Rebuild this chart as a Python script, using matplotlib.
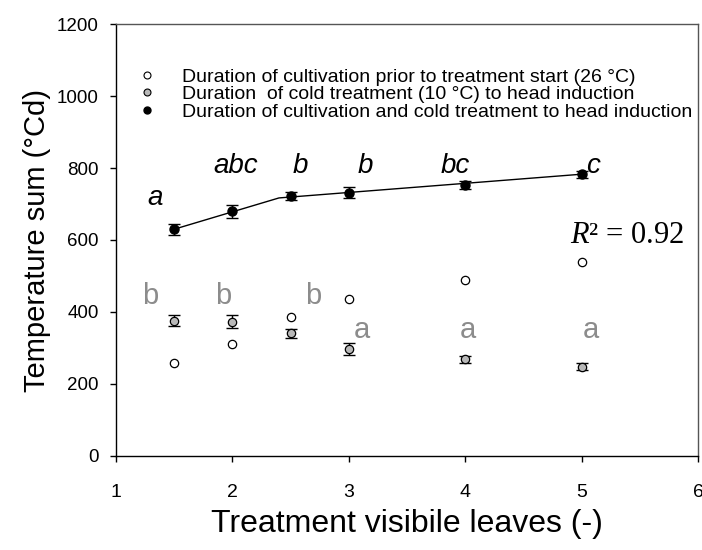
import matplotlib
matplotlib.use("Agg")
import matplotlib.pyplot as plt
from matplotlib.lines import Line2D

plt.rcParams['font.family'] = ['Liberation Sans', 'DejaVu Sans']
plt.rcParams['mathtext.fontset'] = 'custom'
plt.rcParams['mathtext.rm'] = 'Liberation Serif'
plt.rcParams['mathtext.it'] = 'Liberation Serif:italic'

# data
leaves = [1.5, 2.0, 2.5, 3.0, 4.0, 5.0]
prior_26 = [259, 310, 387, 437, 488, 538]
cold_10 = [375, 372, 340, 297, 268, 248]
cold_err = [15, 18, 12, 16, 10, 10]
total = [630, 680, 722, 732, 753, 783]
total_err = [15, 18, 11, 16, 11, 10]

# broken-stick fit drawn through the totals
fit_x = [1.5, 2.4, 5.0]
fit_y = [630, 717, 783]
r2_text = "$R$\u00b2 = 0.92"

# significance letters (text, x, baseline y)
total_letters = ["a", "abc", "b", "b", "bc", "c"]
total_letter_x = [1.333, 2.028, 2.583, 3.144, 3.915, 5.096]
total_letter_y = [697, 787, 787, 787, 787, 787]
cold_letters = ["b", "b", "b", "a", "a", "a"]
cold_letter_x = [1.293, 1.924, 2.694, 3.116, 4.025, 5.078]
cold_letter_y = [422, 422, 422, 327, 327, 327]

legend_labels = [
    "Duration of cultivation prior to treatment start (26 \u00b0C)",
    "Duration  of cold treatment (10 \u00b0C) to head induction",
    "Duration of cultivation and cold treatment to head induction",
]

gray_fill = "#b8b8b8"
gray_text = "#8c8c8c"

fig = plt.figure(figsize=(7.02, 5.5), dpi=100)
ax = fig.add_axes([116 / 702, 1 - 455.7 / 550, (698 - 116) / 702, (455.7 - 24.3) / 550])

# fitted line
ax.plot(fit_x, fit_y, color="black", lw=1.0, zorder=2)

# error bars
ax.errorbar(leaves, total, yerr=total_err, fmt="none", ecolor="black",
            elinewidth=1.0, capsize=4.3, capthick=1.0, zorder=3)
ax.errorbar(leaves, cold_10, yerr=cold_err, fmt="none", ecolor="black",
            elinewidth=1.0, capsize=4.3, capthick=1.0, zorder=3)

# points
ax.plot(leaves, prior_26, "o", ms=6, mfc="white", mec="black", mew=0.9, zorder=4)
ax.plot(leaves, cold_10, "o", ms=6, mfc=gray_fill, mec="black", mew=0.9, zorder=4)
ax.plot(leaves, total, "o", ms=6.5, mfc="black", mec="black", zorder=4)

for t, x, y in zip(total_letters, total_letter_x, total_letter_y):
    ax.text(x, y, t, fontsize=20, style="italic", ha="center", va="baseline")
for t, x, y in zip(cold_letters, cold_letter_x, cold_letter_y):
    ax.text(x, y, t, fontsize=21, color=gray_text, ha="center", va="baseline")

ax.text(4.899, 593, r2_text, fontsize=22, family="Liberation Serif", ha="left", va="baseline")

ax.set_xlim(1, 6)
ax.set_ylim(0, 1200)
ax.set_xticks([1, 2, 3, 4, 5, 6])
ax.set_yticks([0, 200, 400, 600, 800, 1000, 1200])
ax.tick_params(axis="y", direction="out", length=4.3, width=1.0, labelsize=13.5, pad=8)
ax.tick_params(axis="x", direction="out", length=4.3, width=1.0, labelsize=14, pad=16)

for side in ["left", "bottom"]:
    ax.spines[side].set_color("black")
    ax.spines[side].set_linewidth(1.0)
for side in ["top", "right"]:
    ax.spines[side].set_color("#555555")
    ax.spines[side].set_linewidth(1.0)

ax.set_ylabel("Temperature sum (\u00b0Cd)", fontsize=21, labelpad=4)
ax.set_xlabel("Treatment visibile leaves (-)", fontsize=23, labelpad=6)

handles = [
    Line2D([], [], ls="none", marker="o", ms=5, mfc="white", mec="black", mew=0.8),
    Line2D([], [], ls="none", marker="o", ms=5, mfc=gray_fill, mec="black", mew=0.8),
    Line2D([], [], ls="none", marker="o", ms=5, mfc="black", mec="black"),
]
fig.legend(handles, legend_labels, loc="upper left", bbox_to_anchor=(137.3 / 702, 1 - 68 / 550),
           frameon=False, fontsize=14, handlelength=1.0, handletextpad=1.3,
           labelspacing=0.0, borderpad=0, borderaxespad=0)

fig.savefig("out.png", dpi=100)
